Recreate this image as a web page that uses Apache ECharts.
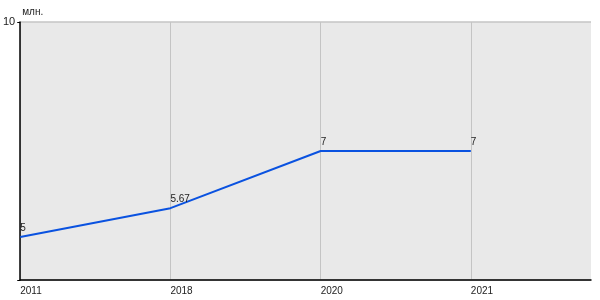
<!DOCTYPE html>
<html><head><meta charset="utf-8">
<script src="https://cdn.jsdelivr.net/npm/echarts@6/dist/echarts.min.js"></script>
<style>html,body{margin:0;padding:0;background:#fff}#c{width:600px;height:300px}</style>
</head><body><div id="c"></div>
<script>
const categories = ['2011', '2018', '2020', '2021'];
const values = [5, 5.67, 7, 7];
const yTickLabels = ['10'];
const unitName = 'млн.';

const chart = echarts.init(document.getElementById('c'), null, {renderer: 'canvas'});
chart.setOption({
  animation: false,
  grid: {left: 20, right: 9, top: 22, bottom: 20, show: true, backgroundColor: '#e9e9e9', borderWidth: 0},
  xAxis: {
    type: 'value', min: 0, max: 3.8, interval: 1,
    axisLine: {show: true, lineStyle: {color: '#000', width: 1.5}},
    axisTick: {show: false},
    axisLabel: {
      align: 'left', margin: 6, color: '#222', fontFamily: 'Liberation Sans', fontSize: 10,
      showMaxLabel: false,
      formatter: v => (Number.isInteger(v) && categories[v] !== undefined) ? categories[v] : ''
    },
    splitLine: {show: true, showMaxLine: false, lineStyle: {color: '#c4c4c4', width: 1}}
  },
  yAxis: {
    type: 'value', min: 4, max: 10, interval: 6,
    name: unitName, nameLocation: 'end', nameGap: 5,
    nameTextStyle: {align: 'left', color: '#222', fontFamily: 'Liberation Sans', fontSize: 10, padding: [0, 0, 0, 2]},
    axisLine: {show: true, lineStyle: {color: '#000', width: 1.5}},
    axisTick: {show: true, length: 3, lineStyle: {color: '#000'}},
    axisLabel: {color: '#222', fontFamily: 'Liberation Sans', fontSize: 11, margin: 5, padding: [0, 0, 6, 0],
      formatter: v => yTickLabels.includes(String(v)) ? String(v) : ''},
    splitLine: {show: true, lineStyle: {color: '#c4c4c4', width: 1.5}}
  },
  series: [{
    type: 'line',
    data: values.map((v, i) => [i, v]),
    symbol: 'circle', symbolSize: 1, showSymbol: true,
    itemStyle: {color: 'rgba(0,0,0,0)'},
    lineStyle: {color: '#0a52e0', width: 2},
    label: {show: true, position: 'top', align: 'left', distance: 3, color: '#222',
      fontFamily: 'Liberation Sans', fontSize: 10, formatter: p => String(p.value[1])}
  }]
});
</script></body></html>
